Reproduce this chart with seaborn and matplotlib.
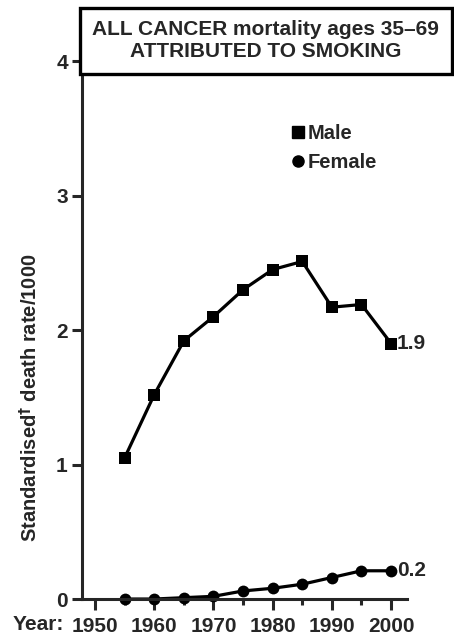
import numpy as np
import pandas as pd
import seaborn as sns
import matplotlib.pyplot as plt
from matplotlib.lines import Line2D
from matplotlib.ticker import MultipleLocator

# data
years = [1955, 1960, 1965, 1970, 1975, 1980, 1985, 1990, 1995, 2000]
male = [1.05, 1.52, 1.92, 2.10, 2.30, 2.45, 2.51, 2.17, 2.19, 1.90]
female = [0.0, 0.0, 0.01, 0.02, 0.06, 0.08, 0.11, 0.16, 0.21, 0.21]
year_ticks = [1950, 1960, 1970, 1980, 1990, 2000]
y_ticks = [0, 1, 2, 3, 4]

df = pd.DataFrame({"Year": years * 2,
                   "Rate": male + female,
                   "Sex": ["Male"] * len(years) + ["Female"] * len(years)})

sns.set_style("ticks")
plt.rcParams['font.family'] = ['Liberation Sans', 'DejaVu Sans']
plt.rcParams['font.weight'] = 'bold'

fig = plt.figure(figsize=(4.54, 6.43), dpi=100)
ax = fig.add_axes([0.180, 0.0684, 0.716, 0.8366])

sns.lineplot(data=df, x="Year", y="Rate", style="Sex", markers={"Male": "s", "Female": "o"},
             dashes=False, color="black", linewidth=2.3, markersize=8.5, markeredgewidth=0,
             legend=False, ax=ax, clip_on=False)

ax.set_xlim(1947.75, 2002.65)
ax.set_ylim(0, 4)
ax.set_xticks(year_ticks)
ax.xaxis.set_minor_locator(MultipleLocator(5))
ax.set_yticks(y_ticks)
ax.set_xticklabels([str(y) for y in year_ticks], fontsize=15, fontweight='bold')
ax.set_yticklabels([str(y) for y in y_ticks], fontsize=15, fontweight='bold')
ax.tick_params(axis='x', which='major', length=8, width=2.2, pad=5)
ax.tick_params(axis='x', which='minor', length=4, width=2.2)
ax.tick_params(axis='y', which='major', length=7, width=2.2, pad=3)
for s in ['left', 'bottom']:
    ax.spines[s].set_linewidth(2.2)
sns.despine(ax=ax)

ax.set_xlabel("")
ax.set_ylabel("Standardised$^{\\dagger}$ death rate/1000", fontsize=14.5, fontweight='bold')
ax.yaxis.set_label_coords(-0.125, 0.375)
ax.text(-0.055, -0.048, "Year:", transform=ax.transAxes, ha='right', va='center',
        fontsize=15, fontweight='bold')

# end labels
ax.text(years[-1] + 1.0, male[-1], "1.9", ha='left', va='center', fontsize=15, fontweight='bold')
ax.text(years[-1] + 1.0, female[-1], "0.2", ha='left', va='center', fontsize=15, fontweight='bold')

# legend
handles = [Line2D([], [], marker='s', ls='none', color='black', markersize=8),
           Line2D([], [], marker='o', ls='none', color='black', markersize=8)]
leg = ax.legend(handles, ["Male", "Female"], loc='upper left', bbox_to_anchor=(0.578, 0.916),
                frameon=False, handletextpad=0.0, handlelength=1.0, labelspacing=0.5,
                prop={'size': 14.5, 'weight': 'bold'})

# title box
fig.text(0.585, 0.937, "ALL CANCER mortality ages 35\u201369\nATTRIBUTED TO SMOKING",
         ha='center', va='center', fontsize=15, fontweight='bold', linespacing=1.2,
         bbox=dict(boxstyle='square,pad=0.6', facecolor='white', edgecolor='black', linewidth=2.4))

fig.savefig("out.png", dpi=100)
